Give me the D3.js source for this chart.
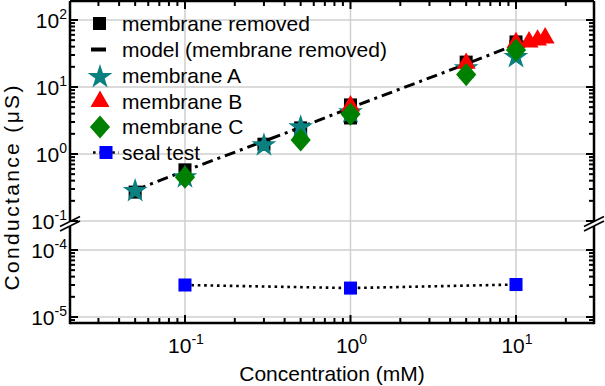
<!DOCTYPE html>
<html><head><meta charset="utf-8">
<script src="https://cdn.jsdelivr.net/npm/d3@7"></script>
<style>
body{margin:0;background:#fff}
svg{display:block}
text{font-family:"Liberation Sans",Arial,sans-serif;fill:#000}
</style>
</head><body><svg id="c" width="605" height="386"></svg>
<script>
// ---- data ----
const removedConc = [0.05, 0.1, 0.3, 0.5, 1, 1, 5, 10, 10];
const removedVal  = [0.27, 0.58, 1.4, 2.45, 5.4, 3.45, 23.5, 47, 40];
const modelConc = [0.05, 0.1, 0.3, 0.5, 1, 5, 10, 15];
const modelVal  = [0.29, 0.56, 1.55, 2.5, 4.9, 22, 43, 58];
const aConc = [0.05, 0.1, 0.3, 0.5, 1, 5, 10];
const aVal  = [0.28, 0.45, 1.35, 2.5, 4.2, 19, 28];
const bConc = [1, 5, 10, 12, 13.5, 15];
const bVal  = [5.2, 22.5, 46, 47, 50, 54];
const cConc = [0.1, 0.5, 1, 5, 10];
const cVal  = [0.45, 1.62, 3.95, 15.3, 35.6];
const sealConc = [0.1, 1, 10];
const sealVal  = [3.0e-5, 2.7e-5, 3.05e-5];
const xTickExp = [-1, 0, 1];
const yUpperExp = [-1, 0, 1, 2];
const yLowerExp = [-5, -4];
const legendLabels = ["membrane removed","model (membrane removed)","membrane A","membrane B","membrane C","seal test"];

// ---- layout ----
const L=70, R=594, T=1, B=323;
const svg = d3.select("#c");
const x  = d3.scaleLog().domain([0.0202, 29.6]).range([L, R]);
const yU = d3.scaleLog().domain([0.1, 192]).range([221, T]);
const yL = d3.scaleLog().domain([8.13e-6, 2.28e-4]).range([B, 226]);

// gridlines
const grid = svg.append("g").attr("stroke","#cfcfcf").attr("stroke-width",1.5);
xTickExp.forEach(e=>{ grid.append("line").attr("x1",x(10**e)).attr("x2",x(10**e)).attr("y1",T).attr("y2",B); });
yUpperExp.forEach(e=>{ grid.append("line").attr("x1",L).attr("x2",R).attr("y1",yU(10**e)).attr("y2",yU(10**e)); });
yLowerExp.forEach(e=>{ grid.append("line").attr("x1",L).attr("x2",R).attr("y1",yL(10**e)).attr("y2",yL(10**e)); });

// symbols
const diamondType = {draw(ctx, s){ const a=Math.sqrt(s/2.3), b=a*1.15; ctx.moveTo(0,-b); ctx.lineTo(a,0); ctx.lineTo(0,b); ctx.lineTo(-a,0); ctx.closePath(); }};
const symSquare = d3.symbol().type(d3.symbolSquare).size(170)();
const symStar = d3.symbol().type(d3.symbolStar).size(190)();
const symTri = d3.symbol().type(d3.symbolTriangle).size(155)();
const symDia = d3.symbol().type(diamondType).size(235)();

function pts(cs, vs){ return cs.map((c,i)=>[c, vs[i]]); }
function drawMarks(data, path, color, yS){
  svg.append("g").selectAll("path").data(data).join("path")
    .attr("d", path).attr("fill", color)
    .attr("transform", d=>`translate(${x(d[0])},${yS(d[1])})`);
}

drawMarks(pts(removedConc, removedVal), symSquare, "#000", yU);

const line = d3.line().x(d=>x(d[0]));
svg.append("path").datum(pts(modelConc, modelVal))
  .attr("d", line.y(d=>yU(d[1]))).attr("fill","none").attr("stroke","#000")
  .attr("stroke-width",3).attr("stroke-dasharray","11,5,3,5");

drawMarks(pts(aConc, aVal), symStar, "#0a8080", yU);
drawMarks(pts(bConc, bVal), symTri, "#ff0000", yU);
drawMarks(pts(cConc, cVal), symDia, "#008000", yU);

svg.append("path").datum(pts(sealConc, sealVal))
  .attr("d", d3.line().x(d=>x(d[0])).y(d=>yL(d[1]))).attr("fill","none").attr("stroke","#000")
  .attr("stroke-width",2.6).attr("stroke-dasharray","2.6,3.8");
drawMarks(pts(sealConc, sealVal), symSquare, "#0000ff", yL);

// ---- axes frame ----
const ax = svg.append("g").attr("stroke","#000").attr("fill","none");
ax.append("line").attr("x1",L).attr("x2",R).attr("y1",T).attr("y2",T).attr("stroke-width",2.5);
ax.append("line").attr("x1",L).attr("x2",R).attr("y1",B).attr("y2",B).attr("stroke-width",2.5);
[L,R].forEach(xx=>{
  ax.append("line").attr("x1",xx).attr("x2",xx).attr("y1",T).attr("y2",221).attr("stroke-width",2.5);
  ax.append("line").attr("x1",xx).attr("x2",xx).attr("y1",226).attr("y2",B+1.2).attr("stroke-width",2.5);
  [221.5,226].forEach(yb=>{
    ax.append("line").attr("x1",xx-10).attr("x2",xx+10).attr("y1",yb+5).attr("y2",yb-5).attr("stroke-width",1.8);
  });
});

// ticks
const tk = svg.append("g").attr("stroke","#000").attr("stroke-width",2);
function decadeTicks(lo, hi){ const out=[]; for(let e=lo;e<=hi;e++){ for(let m=1;m<=9;m++) out.push({v:m*10**e, major:m===1}); } return out; }
decadeTicks(-2,1).forEach(t=>{
  const px = x(t.v); if(px < L+2 || px > R-2) return;
  const len = t.major?8:5;
  tk.append("line").attr("x1",px).attr("x2",px).attr("y1",B).attr("y2",B-len);
  tk.append("line").attr("x1",px).attr("x2",px).attr("y1",T).attr("y2",T+len);
});
decadeTicks(-1,2).forEach(t=>{
  const py = yU(t.v); if(py < T+2 || py > 222) return;
  const len = t.major?8:5;
  tk.append("line").attr("x1",L).attr("x2",L+len).attr("y1",py).attr("y2",py);
  tk.append("line").attr("x1",R).attr("x2",R-len).attr("y1",py).attr("y2",py);
});
decadeTicks(-6,-4).forEach(t=>{
  if(t.v > 1.01e-4) return;
  const py = yL(t.v); if(py > B-2) return;
  const len = t.major?8:5;
  tk.append("line").attr("x1",L).attr("x2",L+len).attr("y1",py).attr("y2",py);
  tk.append("line").attr("x1",R).attr("x2",R-len).attr("y1",py).attr("y2",py);
});

// tick labels
function powLabel(g, e, px, py, anchor){
  const t = g.append("text").attr("x",px).attr("y",py).attr("text-anchor",anchor).attr("font-size",21);
  t.append("tspan").text("10");
  t.append("tspan").attr("dy",-9).attr("font-size",14).text(e<0 ? "-"+(-e) : String(e));
}
const lab = svg.append("g");
xTickExp.forEach(e=>powLabel(lab, e, x(10**e)+1, 353, "middle"));
yUpperExp.forEach(e=>powLabel(lab, e, 67, yU(10**e)+8, "end"));
yLowerExp.forEach(e=>powLabel(lab, e, 67, yL(10**e)+8, "end"));

// axis titles
svg.append("text").attr("x",332).attr("y",381).attr("text-anchor","middle").attr("font-size",21).text("Concentration (mM)");
svg.append("text").attr("transform","translate(19,188) rotate(-90)").attr("text-anchor","middle").attr("font-size",21)
  .attr("textLength",205).attr("lengthAdjust","spacing").text("Conductance (\u03bcS)");

// legend
const lg = svg.append("g");
const rows = [23.5, 49.5, 76, 101.5, 127, 152.5];
legendLabels.forEach((s,i)=>{
  lg.append("text").attr("x",122).attr("y",rows[i]).attr("dy","0.35em").attr("font-size",21).text(s);
});
lg.append("path").attr("d",symSquare).attr("transform",`translate(99.5,${rows[0]})`).attr("fill","#000");
lg.append("line").attr("x1",91).attr("x2",106).attr("y1",rows[1]).attr("y2",rows[1]).attr("stroke","#000").attr("stroke-width",4);
lg.append("path").attr("d",symStar).attr("transform",`translate(100,${rows[2]+1})`).attr("fill","#0a8080");
lg.append("path").attr("d",symTri).attr("transform",`translate(100,${rows[3]})`).attr("fill","#ff0000");
lg.append("path").attr("d",symDia).attr("transform",`translate(100,${rows[4]})`).attr("fill","#008000");
lg.append("line").attr("x1",93).attr("x2",119).attr("y1",rows[5]).attr("y2",rows[5]).attr("stroke","#000").attr("stroke-width",2.6).attr("stroke-dasharray","2.6,3.8");
lg.append("path").attr("d",symSquare).attr("transform",`translate(106,${rows[5]})`).attr("fill","#0000ff");
</script>
</body></html>
